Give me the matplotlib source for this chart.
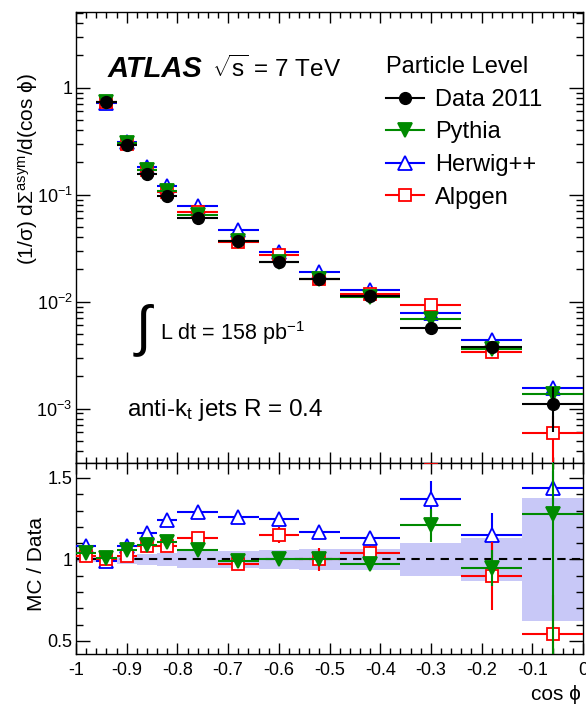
import numpy as np
import matplotlib
matplotlib.use("Agg")
import matplotlib.pyplot as plt
from matplotlib.ticker import MultipleLocator, LogLocator, FuncFormatter, NullFormatter
from matplotlib.lines import Line2D

plt.rcParams['font.family'] = ['Liberation Sans', 'DejaVu Sans']
plt.rcParams['mathtext.fontset'] = 'custom'
plt.rcParams['mathtext.rm'] = 'Liberation Sans'
plt.rcParams['mathtext.it'] = 'Liberation Sans:italic'
plt.rcParams['mathtext.bf'] = 'Liberation Sans:bold'

# bins in cos(phi)
bin_edges = np.array([-1, -0.96, -0.92, -0.88, -0.84, -0.80, -0.72, -0.64, -0.56, -0.48, -0.36, -0.24, -0.12, 0])

# distributions (first bin is off the top of the upper plot)
data = [np.nan, 0.73, 0.29, 0.157, 0.097, 0.061, 0.037, 0.0235, 0.0163, 0.0114, 0.0057, 0.0038, 0.0011]
data_err = [np.nan, 0.005, 0.002, 0.001, 0.0007, 0.0004, 0.0003, 0.0002, 0.00015, 0.0001, 0.0002, 0.0002, 0.0005]
pythia = [np.nan, 0.74, 0.307, 0.171, 0.108, 0.065, 0.0366, 0.0235, 0.0163, 0.0111, 0.0069, 0.0036, 0.00138]
pythia_err = [np.nan, 0.005, 0.002, 0.001, 0.0007, 0.0004, 0.0003, 0.0002, 0.00015, 0.0001, 0.0002, 0.0002, 0.0002]
herwig = [np.nan, 0.72, 0.313, 0.182, 0.120, 0.079, 0.0466, 0.0294, 0.0191, 0.0129, 0.0078, 0.0044, 0.00155]
herwig_err = [np.nan, 0.005, 0.002, 0.001, 0.0007, 0.0004, 0.0003, 0.0002, 0.00015, 0.0001, 0.0002, 0.0002, 0.0001]
alpgen = [np.nan, 0.73, 0.296, 0.170, 0.105, 0.069, 0.0359, 0.0270, 0.0163, 0.0119, 0.0092, 0.0034, 0.00059]
alpgen_err = [np.nan, 0.005, 0.002, 0.001, 0.0007, 0.0004, 0.0003, 0.0003, 0.0003, 0.0002, 0.0003, 0.0003, 0.00027]

# MC / Data
pythia_r = [1.04, 1.01, 1.06, 1.09, 1.11, 1.06, 0.99, 1.00, 1.00, 0.97, 1.21, 0.95, 1.28]
pythia_re = [0.01, 0.01, 0.01, 0.01, 0.015, 0.015, 0.015, 0.02, 0.02, 0.025, 0.10, 0.11, 0.9]
herwig_r = [1.08, 0.99, 1.08, 1.16, 1.24, 1.29, 1.26, 1.25, 1.17, 1.13, 1.37, 1.15, 1.44]
herwig_re = [0.01, 0.01, 0.01, 0.01, 0.015, 0.015, 0.015, 0.02, 0.02, 0.025, 0.11, 0.135, 0.1]
alpgen_r = [1.02, 1.00, 1.02, 1.08, 1.08, 1.13, 0.97, 1.15, 1.00, 1.04, 1.63, 0.90, 0.54]
alpgen_re = [0.01, 0.01, 0.015, 0.02, 0.02, 0.03, 0.02, 0.05, 0.07, 0.04, 0.02, 0.21, 0.24]
data_band = [0.015, 0.015, 0.025, 0.035, 0.04, 0.05, 0.05, 0.06, 0.065, 0.065, 0.10, 0.13, 0.38]

centers = 0.5 * (bin_edges[:-1] + bin_edges[1:])
widths = np.diff(bin_edges)
half = widths / 2

W, H = 586, 710
fig = plt.figure(figsize=(W / 100, H / 100), dpi=100)
ax1 = fig.add_axes([76 / W, 1 - 463 / H, 507 / W, 451 / H])
ax2 = fig.add_axes([76 / W, 1 - 654 / H, 507 / W, 191 / H], sharex=ax1)

GREEN = '#008a00'
styles = [
    # values, errors, ratio, ratio err, color, marker, face, size, label
    (herwig, herwig_err, herwig_r, herwig_re, 'blue', '^', 'white', 10, 'Herwig++'),
    (alpgen, alpgen_err, alpgen_r, alpgen_re, 'red', 's', 'white', 8.5, 'Alpgen'),
    (pythia, pythia_err, pythia_r, pythia_re, GREEN, 'v', GREEN, 10, 'Pythia'),
]

# data band and reference line
ax2.bar(centers, 2 * np.array(data_band), width=widths, bottom=1 - np.array(data_band),
        color='#c8c8f7', lw=0, zorder=1)
ax2.axhline(1, color='black', ls=(0, (4, 3)), lw=1.5, zorder=2)

for k, (v, e, r, re, c, m, fc, ms, lab) in enumerate(styles):
    ax1.errorbar(centers, v, xerr=half, yerr=e, fmt=m, color=c, mfc=fc, mec=c, ms=ms,
                 mew=1.3, lw=1.5, capsize=0, zorder=3 + k)
    ax2.errorbar(centers, r, xerr=half, yerr=re, fmt=m, color=c, mfc=fc, mec=c, ms=ms,
                 mew=1.3, lw=1.5, capsize=0, zorder=3 + k)

ax1.errorbar(centers, data, xerr=half, yerr=data_err, fmt='o', color='black', ms=8.5,
             lw=1.5, capsize=0, zorder=8)

# axes
ax1.set_xlim(-1, 0)
ax1.set_yscale('log')
ax1.set_ylim(3.1e-4, 5.1)
ax1.yaxis.set_major_locator(LogLocator(base=10, numticks=10))
ax1.yaxis.set_minor_locator(LogLocator(base=10, subs=np.arange(2, 10), numticks=20))
ax1.yaxis.set_minor_formatter(NullFormatter())
ax1.yaxis.set_major_formatter(FuncFormatter(
    lambda v, p: '1' if abs(v - 1) < 1e-9 else r'$\mathregular{10^{%d}}$' % round(np.log10(v))))
ax1.tick_params(labelbottom=False)

ax2.set_ylim(0.42, 1.592)
ax2.yaxis.set_major_locator(MultipleLocator(0.5))
ax2.yaxis.set_minor_locator(MultipleLocator(0.1))
ax2.yaxis.set_major_formatter(FuncFormatter(lambda v, p: '%g' % round(v, 1)))
ax2.xaxis.set_major_locator(MultipleLocator(0.1))
ax2.xaxis.set_minor_locator(MultipleLocator(0.02))
ax2.xaxis.set_major_formatter(FuncFormatter(
    lambda v, p: '0' if abs(v) < 1e-9 else '%g' % round(v, 1)))

for ax in (ax1, ax2):
    ax.tick_params(which='both', direction='in', top=True, right=True, labelsize=13, width=1)
    ax.tick_params(axis='y', which='major', length=10, pad=2.5)
    ax.tick_params(axis='y', which='minor', length=5)
    ax.tick_params(axis='x', which='major', length=8)
    ax.tick_params(axis='x', which='minor', length=4)
    ax.tick_params(axis='x', pad=6)
    for s in ax.spines.values():
        s.set_linewidth(1)

# labels
fig.text(28 / W, 1 - 73 / H, r'(1/σ) dΣ$^{\mathregular{asym}}$/d(cos ϕ)', rotation=90,
         ha='center', va='top', fontsize=15)
fig.text(36 / W, 1 - 564 / H, 'MC / Data', rotation=90, ha='center', va='center', fontsize=15)
fig.text(581 / W, 1 - 695 / H, 'cos ϕ', ha='right', va='center', fontsize=15)

fig.text(108 / W, 1 - 77 / H, 'ATLAS', fontsize=21, fontweight='bold', style='italic')
fig.text(212 / W, 1 - 77 / H, r'$\sqrt{\mathregular{s}}$ = 7 TeV', fontsize=17.5)
fig.text(136 / W, 1 - 330 / H, '∫', fontsize=40, va='center')
fig.text(160 / W, 1 - 340 / H, r'L dt = 158 pb$^{\mathregular{-1}}$', fontsize=15.5)
fig.text(127 / W, 1 - 416 / H, r'anti-k$_{\mathregular{t}}$ jets R = 0.4', fontsize=17.5)

# legend
handles = [Line2D([], [], color='black', marker='o', ms=8.5, lw=1.5)]
labels = ['Data 2011']
for v, e, r, re, c, m, fc, ms, lab in [styles[2], styles[0], styles[1]]:
    handles.append(Line2D([], [], color=c, marker=m, mfc=fc, mec=c, ms=ms, mew=1.3, lw=1.5))
    labels.append(lab)
ax1.legend(handles, labels, title='Particle Level', loc='upper left',
           bbox_to_anchor=(0.612, 0.902), frameon=False, fontsize=17, title_fontsize=17,
           handlelength=1.6, handletextpad=0.45, labelspacing=0.45, borderpad=0,
           borderaxespad=0, alignment='left')

fig.savefig('out.png', dpi=100)
